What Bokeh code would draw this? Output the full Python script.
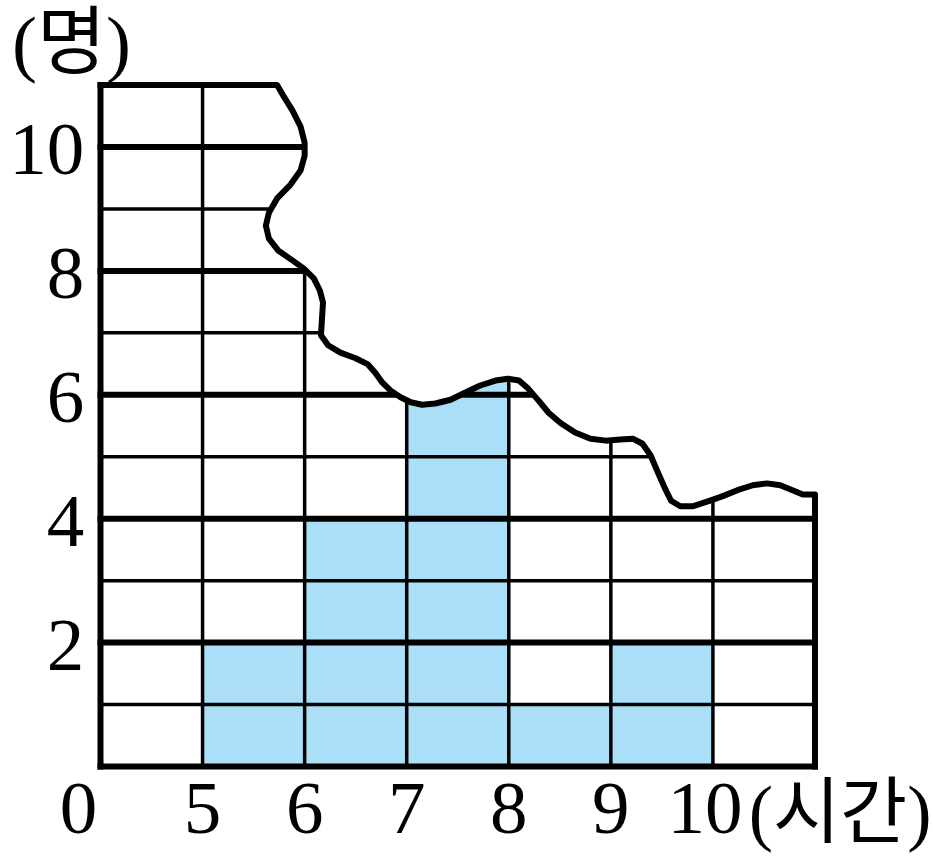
from bokeh.plotting import figure
from bokeh.models import Range1d, ColumnDataSource
from bokeh.core.properties import value
from bokeh.embed import file_html
from bokeh.resources import INLINE

# ---------------- data ----------------
class_left = [5, 6, 7, 8, 9, 10]          # 시간 class lower bounds
class_right = [6, 7, 8, 9, 10, 11]        # 시간 class upper bounds
counts = [2, 4, 7, 1, 2, 0]               # 명 (7~8 bar continues under the torn edge)
x_ticks = [5, 6, 7, 8, 9, 10]
x_tick_labels = ["5", "6", "7", "8", "9", "10"]
y_ticks = [2, 4, 6, 8, 10]
y_tick_labels = ["2", "4", "6", "8", "10"]
grid_x = [4, 5, 6, 7, 8, 9, 10, 11]       # 4 = compressed "0 ~ 5" column
grid_y = list(range(0, 12))
zero_label_x = 3.785                      # where the "0" of the broken axis sits
x_unit = "(시간)"
y_unit = "(명)"

# torn (wavy) edge of the graph paper, in data units
tear_x = [5.73, 5.79, 5.88, 5.96, 6.00, 6.00, 5.96, 5.86, 5.73, 5.65, 5.62, 5.65, 5.74, 5.88,
          5.99, 6.09, 6.15, 6.18, 6.17, 6.16, 6.23, 6.35, 6.50, 6.62, 6.69, 6.76, 6.84, 6.94,
          7.04, 7.15, 7.28, 7.43, 7.58, 7.72, 7.87, 7.99, 8.10, 8.19, 8.29, 8.39, 8.51, 8.65,
          8.80, 8.95, 9.09, 9.22, 9.31, 9.39, 9.46, 9.53, 9.59, 9.68, 9.80, 9.95, 10.09, 10.24,
          10.39, 10.53, 10.66, 10.78, 10.88, 11.00]
tear_y = [11.00, 10.83, 10.59, 10.33, 10.07, 9.86, 9.62, 9.39, 9.17, 8.94, 8.73, 8.52, 8.33, 8.17,
          8.04, 7.88, 7.68, 7.49, 7.23, 6.96, 6.80, 6.68, 6.59, 6.49, 6.36, 6.20, 6.07, 5.96,
          5.88, 5.84, 5.86, 5.92, 6.04, 6.15, 6.23, 6.26, 6.23, 6.10, 5.91, 5.71, 5.54, 5.39,
          5.29, 5.26, 5.28, 5.29, 5.21, 5.02, 4.75, 4.49, 4.29, 4.20, 4.20, 4.28, 4.36, 4.46,
          4.54, 4.57, 4.54, 4.46, 4.39, 4.39]

BAR_COLOR = "#ABDFF8"
THICK, THIN = 6, 3.5
NUM_FONT = value("Liberation Serif")
KO_FONT = value("Liberation Serif, Noto Sans CJK KR")

x_range = Range1d(3.0203, 12.161)
y_range = Range1d(-1.5335, 12.3648)

p = figure(width=933, height=861, x_range=x_range, y_range=y_range,
           output_backend="svg", toolbar_location=None,
           x_axis_type=None, y_axis_type=None, min_border=0)
p.grid.visible = False
p.outline_line_color = None
p.background_fill_color = "white"
p.border_fill_color = "white"

# bars
p.quad(left=class_left, right=class_right, bottom=0, top=counts,
       fill_color=BAR_COLOR, line_color=None)

# graph-paper grid
h_src = ColumnDataSource(dict(
    x0=[grid_x[0]] * len(grid_y), x1=[grid_x[-1]] * len(grid_y), y=grid_y,
    w=[THICK if (g % 2 == 0 or g == grid_y[-1]) else THIN for g in grid_y]))
p.segment(x0="x0", y0="y", x1="x1", y1="y", line_width="w", line_color="black",
          line_cap="square", source=h_src)
v_src = ColumnDataSource(dict(
    x=grid_x, y0=[grid_y[0]] * len(grid_x), y1=[grid_y[-1]] * len(grid_x),
    w=[THICK if g in (grid_x[0], grid_x[-1]) else THIN for g in grid_x]))
p.segment(x0="x", y0="y0", x1="x", y1="y1", line_width="w", line_color="black",
          line_cap="square", source=v_src)

# torn-off part: white cover above the wavy edge, then the edge itself
cover_x = tear_x + [x_range.end + 1, x_range.end + 1, tear_x[0]]
cover_y = tear_y + [tear_y[-1], y_range.end + 1, y_range.end + 1]
p.patch(cover_x, cover_y, fill_color="white", line_color=None)
p.line(tear_x, tear_y, line_width=THICK, line_color="black", line_join="round", line_cap="round")

# tick labels
label_row_y = -0.678
xl_src = ColumnDataSource(dict(
    x=[zero_label_x] + x_ticks, y=[label_row_y] * (len(x_ticks) + 1),
    text=["0"] + x_tick_labels,
    dx=[0] * len(x_ticks) + [-8]))   # last label hugs its unit text
p.text(x="x", y="y", text="text", x_offset="dx", source=xl_src,
       text_font=NUM_FONT, text_font_size="75px",
       text_align="center", text_baseline="middle", text_color="black")
p.text(x=[3.84] * len(y_ticks), y=y_ticks, text=y_tick_labels, y_offset=3,
       text_font=NUM_FONT, text_font_size="75px",
       text_align="right", text_baseline="middle", text_color="black")

# unit labels
p.text(x=[3.716], y=[11.687], text=[y_unit], text_font=KO_FONT, text_font_size="75px",
       text_align="center", text_baseline="middle", text_color="black")
p.text(x=[10.35], y=[-0.74], text=[x_unit], text_font=KO_FONT, text_font_size="73px",
       text_align="left", text_baseline="middle", text_color="black")

open("out.html", "w").write(file_html(p, INLINE))
